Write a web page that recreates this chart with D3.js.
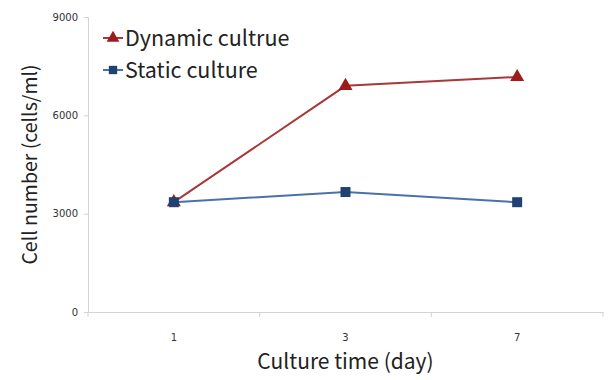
<!DOCTYPE html>
<html>
<head>
<meta charset="utf-8">
<script src="https://cdn.jsdelivr.net/npm/d3@7"></script>
<style>
  body { margin: 0; background: #fff; }
  svg { display: block; }
</style>
</head>
<body>
<div id="chart"></div>
<script>
const days = ['1', '3', '7'];
const dynamicValues = [3350, 6900, 7170];
const staticValues = [3350, 3660, 3350];
const yTicks = [0, 3000, 6000, 9000];

const W = 609, H = 380;
const M = { top: 17, right: 6, bottom: 68, left: 88 };

const svg = d3.select('#chart').append('svg')
  .attr('width', W).attr('height', H);

const x = d3.scaleBand().domain(days).range([M.left, W - M.right]);
const y = d3.scaleLinear().domain([0, 9000]).range([H - M.bottom, M.top]);

const axisColor = '#d3d3d3';
const tickFont = '"DejaVu Sans", Verdana, sans-serif';
const labelFont = '"Noto Sans CJK KR", "Noto Sans", sans-serif';

// y axis
const yAxis = svg.append('g')
  .attr('transform', `translate(${M.left},0)`)
  .call(d3.axisLeft(y).tickValues(yTicks).tickFormat(d3.format('d')).tickSize(4).tickPadding(6));
yAxis.selectAll('path, line').attr('stroke', axisColor);
yAxis.selectAll('text')
  .style('font-family', tickFont).style('font-size', '10px')
  .attr('fill', '#333');

// x axis
const xAxis = svg.append('g')
  .attr('transform', `translate(0,${y(0)})`)
  .call(d3.axisBottom(x).tickSize(0).tickPadding(22));
xAxis.select('path').attr('stroke', axisColor);
xAxis.selectAll('text')
  .style('font-family', tickFont).style('font-size', '10px')
  .attr('fill', '#333');
// boundary ticks between categories
const bounds = days.map(d => x(d)).concat([x(days[days.length - 1]) + x.bandwidth()]);
svg.append('g').selectAll('line').data(bounds).enter().append('line')
  .attr('x1', d => d).attr('x2', d => d)
  .attr('y1', y(0)).attr('y2', y(0) + 5)
  .attr('stroke', axisColor);

const cx = d => x(d) + x.bandwidth() / 2;

const series = [
  { name: 'Dynamic cultrue', values: dynamicValues, line: '#a8383a', marker: '#9c1c1c', shape: d3.symbolTriangle },
  { name: 'Static culture', values: staticValues, line: '#4a72a8', marker: '#1f4272', shape: d3.symbolSquare }
];

const line = d3.line().x((d, i) => cx(days[i])).y(d => y(d));

[series[1], series[0]].forEach(s => {
  svg.append('path')
    .datum(s.values)
    .attr('fill', 'none')
    .attr('stroke', s.line)
    .attr('stroke-width', 2)
    .attr('d', line);
});
// static markers drawn last so the square covers the shared day-1 point
series.forEach(s => {
  svg.append('g').selectAll('path').data(s.values).enter().append('path')
    .attr('transform', (d, i) => `translate(${cx(days[i])},${y(d)})`)
    .attr('d', d3.symbol().type(s.shape).size(s.shape === d3.symbolSquare ? 100 : 85))
    .attr('fill', s.marker);
});

// legend
const legend = svg.append('g').attr('transform', 'translate(103,38)');
series.forEach((s, i) => {
  const g = legend.append('g').attr('transform', `translate(0,${i * 32})`);
  g.append('line').attr('x1', 0).attr('x2', 20).attr('y1', 0).attr('y2', 0)
    .attr('stroke', s.line).attr('stroke-width', 2);
  g.append('path').attr('transform', 'translate(10,0)')
    .attr('d', d3.symbol().type(s.shape).size(70))
    .attr('fill', s.marker);
  g.append('text').attr('x', 22).attr('y', 0).attr('dy', '0.36em')
    .style('font-family', labelFont).style('font-size', '21.5px')
    .attr('fill', '#222')
    .text(s.name);
});

// axis titles
svg.append('text')
  .attr('transform', `translate(30,${(M.top + y(0)) / 2}) rotate(-90)`)
  .attr('text-anchor', 'middle').attr('dy', '0.36em')
  .style('font-family', labelFont).style('font-size', '19.5px')
  .attr('fill', '#222')
  .text('Cell number (cells/ml)');

svg.append('text')
  .attr('x', cx(days[1])).attr('y', 369)
  .attr('text-anchor', 'middle')
  .style('font-family', labelFont).style('font-size', '21px')
  .attr('fill', '#222')
  .text('Culture time (day)');
</script>
</body>
</html>
